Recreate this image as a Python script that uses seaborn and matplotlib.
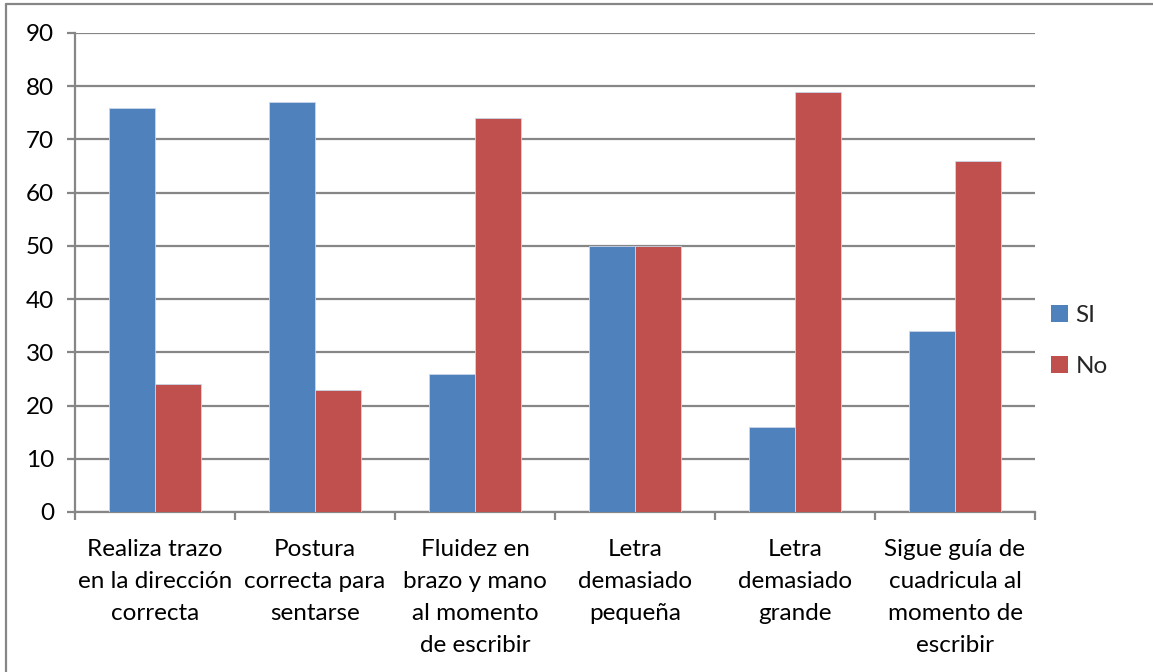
import numpy as np
import pandas as pd
import seaborn as sns
import matplotlib.pyplot as plt
from matplotlib.lines import Line2D

# --- Data ---
categories = [
    "Realiza trazo\nen la dirección\ncorrecta",
    "Postura\ncorrecta para\nsentarse",
    "Fluidez en\nbrazo y mano\nal momento\nde escribir",
    "Letra\ndemasiado\npequeña",
    "Letra\ndemasiado\ngrande",
    "Sigue guía de\ncuadricula al\nmomento de\nescribir",
]
si_values = [76, 77, 26, 50, 16, 34]
no_values = [24, 23, 74, 50, 79, 66]
series_names = ["SI", "No"]
y_ticks = list(range(0, 91, 10))

palette = {"SI": "#4F81BD", "No": "#C0504D"}
GRID_COLOR = "#868686"

df = pd.DataFrame({
    "Categoria": categories * 2,
    "Serie": [series_names[0]] * len(categories) + [series_names[1]] * len(categories),
    "Valor": si_values + no_values,
})

sns.set_style("white")
plt.rcParams["font.family"] = ["Lato", "DejaVu Sans"]

W, H = 1153, 672
FS = 17.5
fig = plt.figure(figsize=(W / 100, H / 100), dpi=100)
ax = fig.add_axes([75 / W, 1 - 512 / H, (1035 - 75) / W, (512 - 33) / H])

sns.barplot(data=df, x="Categoria", y="Valor", hue="Serie", hue_order=series_names,
            palette=palette, width=0.57, saturation=1, ax=ax, zorder=3,
            edgecolor="#c9d6e8", linewidth=0.6)

# --- Axis polish ---
ax.set_ylim(0, 90)
ax.set_yticks(y_ticks)
ax.set_xlim(-0.5, len(categories) - 0.5)
ax.yaxis.grid(True, color=GRID_COLOR, lw=1.6, zorder=0)
ax.set_axisbelow(True)
ax.set_xlabel("")
ax.set_ylabel("")

for side in ["top", "right"]:
    ax.spines[side].set_visible(False)
for side in ["left", "bottom"]:
    ax.spines[side].set_color(GRID_COLOR)
    ax.spines[side].set_linewidth(1.6)

ax.tick_params(axis="y", left=True, length=6, width=1.6, color=GRID_COLOR,
               labelsize=FS, pad=9, labelcolor="black")
ax.set_xticks(np.arange(-0.5, len(categories), 1.0), minor=True)
ax.tick_params(axis="x", which="minor", bottom=True, length=6, width=1.6, color=GRID_COLOR)
ax.tick_params(axis="x", which="major", bottom=False, labelsize=FS, pad=16, labelcolor="black")
for lbl in ax.get_xticklabels():
    lbl.set_linespacing(1.64)
    lbl.set_va("top")

# --- Legend ---
leg = ax.legend(loc="center left", bbox_to_anchor=(1051 / W, 1 - 341 / H),
                bbox_transform=fig.transFigure, frameon=False, title=None,
                fontsize=FS, handlelength=0.7, handleheight=0.7,
                handletextpad=0.3, labelspacing=1.2, borderpad=0, borderaxespad=0)
for h in leg.legend_handles:
    h.set_edgecolor("none")

# --- Outer border ---
fig.add_artist(Line2D([6 / W, 6 / W], [0, 1 - 4 / H], color=GRID_COLOR, lw=1.6))
fig.add_artist(Line2D([6 / W, 1], [1 - 4 / H, 1 - 4 / H], color=GRID_COLOR, lw=1.6))

fig.savefig("out.png", dpi=100)
